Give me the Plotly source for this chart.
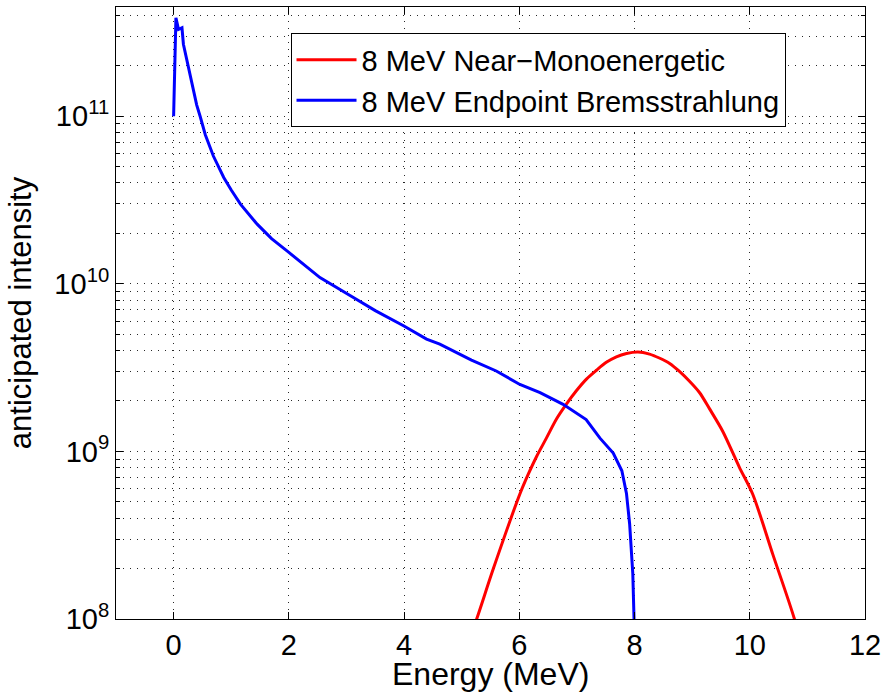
import plotly.graph_objects as go

# ---- data ----
brems_energy = [0.0, 0.04, 0.085, 0.145, 0.17, 0.245, 0.32, 0.40, 0.46, 0.55, 0.69,
                0.87, 1.0, 1.16, 1.45, 1.7, 2.0, 2.54, 3.12, 3.5, 3.99, 4.39, 4.62,
                5.17, 5.6, 6.01, 6.36, 6.76, 7.16, 7.4, 7.63, 7.78, 7.86, 7.915,
                7.97, 8.0, 8.03]
brems_intensity = [1.0e11, 3.87e11, 3.30e11, 3.37e11, 2.69e11, 2.04e11, 1.55e11,
                   1.17e11, 1.0e11, 7.76e10, 5.79e10, 4.31e10, 3.63e10, 2.99e10,
                   2.27e10, 1.86e10, 1.54e10, 1.09e10, 8.28e9, 6.92e9, 5.62e9,
                   4.68e9, 4.37e9, 3.51e9, 3.02e9, 2.51e9, 2.24e9, 1.91e9, 1.55e9,
                   1.20e9, 9.77e8, 7.67e8, 5.62e8, 3.69e8, 1.86e8, 1.0e8, 3.2e7]

mono_energy = [5.0, 5.26, 5.55, 6.01, 6.15, 6.30, 6.47, 6.645, 6.82, 6.99, 7.165,
               7.34, 7.51, 7.685, 7.86, 8.06, 8.26, 8.43, 8.61, 8.78, 8.95, 9.13,
               9.30, 9.53, 9.82, 10.05, 10.40, 10.775, 11.0]
mono_intensity = [5.62e7, 1.0e8, 2.0e8, 5.57e8, 7.24e8, 9.33e8, 1.20e9, 1.56e9,
                  1.92e9, 2.30e9, 2.70e9, 3.05e9, 3.40e9, 3.67e9, 3.84e9, 3.92e9,
                  3.81e9, 3.61e9, 3.35e9, 3.00e9, 2.63e9, 2.24e9, 1.80e9, 1.32e9,
                  8.04e8, 5.57e8, 2.43e8, 1.0e8, 5.0e7]

x_ticks = [0, 2, 4, 6, 8, 10, 12]
y_ticks = [1e8, 1e9, 1e10, 1e11]
y_ticktext = ["10<sup>8</sup>", "10<sup>9</sup>", "10<sup>10</sup>", "10<sup>11</sup>"]
y_minor = [m * 10 ** e for e in range(8, 12) for m in range(2, 10)]

FONT = "Liberation Sans, Arial, Helvetica, sans-serif"
GRID = "rgb(40,40,40)"

fig = go.Figure()
fig.add_trace(go.Scatter(x=mono_energy, y=mono_intensity, mode="lines",
                         name="8 MeV Near\u2212Monoenergetic", legendgroup="a",
                         line=dict(color="#ff0000", width=3, shape="spline", smoothing=0.8)))
fig.add_trace(go.Scatter(x=brems_energy, y=brems_intensity, mode="lines",
                         name="8 MeV Endpoint Bremsstrahlung", legendgroup="b",
                         line=dict(color="#0000ff", width=3)))

fig.update_layout(
    width=887, height=696,
    margin=dict(l=116, r=20, t=6, b=77),
    paper_bgcolor="white", plot_bgcolor="white",
    font=dict(family=FONT, size=29, color="black"),
    showlegend=True,
    legend=dict(x=0.233, y=0.957, xanchor="left", yanchor="top",
                bgcolor="white", bordercolor="black", borderwidth=1,
                font=dict(size=29, family=FONT), itemwidth=60,
                tracegroupgap=0),
    xaxis=dict(range=[-1, 12], tickvals=x_ticks, ticks="inside", ticklen=7,
               tickcolor="black", showline=True, linecolor="black", linewidth=1,
               mirror="ticks", showgrid=True, gridcolor=GRID, gridwidth=1,
               griddash="1px,6px", zeroline=False,
               tickfont=dict(size=29)),
    yaxis=dict(type="log", range=[8, 11.652], tickvals=y_ticks, ticktext=y_ticktext,
               ticks="inside", ticklen=7, tickcolor="black", showline=True,
               linecolor="black", linewidth=1, mirror="ticks",
               showgrid=True, gridcolor=GRID, gridwidth=1, griddash="1px,6px",
               zeroline=False, tickfont=dict(size=29),
               minor=dict(tickvals=y_minor, ticks="inside", ticklen=4,
                          tickcolor="black", showgrid=True, gridcolor=GRID,
                          gridwidth=1, griddash="1px,6px"),
               title=dict(text="anticipated intensity", font=dict(size=31), standoff=13)),
    annotations=[dict(text="Energy (MeV)", xref="paper", yref="paper", x=0.5, y=0,
                      xanchor="center", yanchor="top", yshift=-35, showarrow=False,
                      font=dict(size=32, family=FONT))],
)

fig.write_html("out.html")
